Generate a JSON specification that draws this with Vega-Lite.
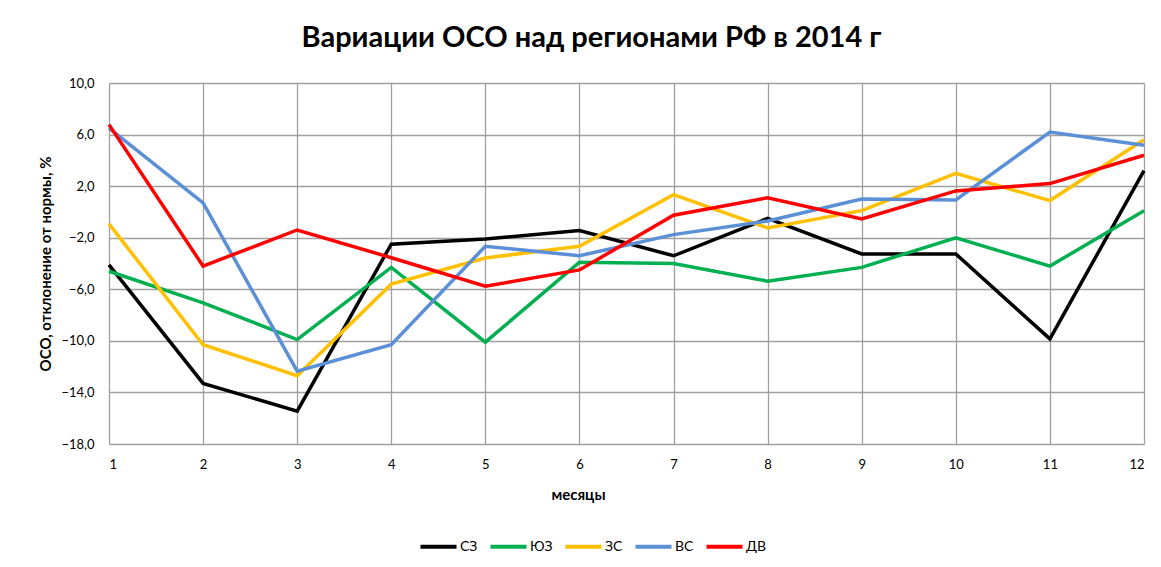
{
  "$schema": "https://vega.github.io/schema/vega-lite/v6.json",
  "width": 1035,
  "height": 361,
  "autosize": "none",
  "padding": {"left": 109, "top": 83, "right": 17, "bottom": 123},
  "background": "white",
  "title": {
    "text": "Вариации ОСО над регионами РФ в 2014 г",
    "font": "Lato",
    "fontSize": 29,
    "fontWeight": "bold",
    "color": "#000000",
    "anchor": "middle",
    "dx": -35,
    "offset": 24
  },
  "data": {
    "values": [
      {"m": 1, "r": "СЗ", "v": -4.1}, {"m": 2, "r": "СЗ", "v": -13.3}, {"m": 3, "r": "СЗ", "v": -15.45}, {"m": 4, "r": "СЗ", "v": -2.5}, {"m": 5, "r": "СЗ", "v": -2.1}, {"m": 6, "r": "СЗ", "v": -1.45}, {"m": 7, "r": "СЗ", "v": -3.4}, {"m": 8, "r": "СЗ", "v": -0.5}, {"m": 9, "r": "СЗ", "v": -3.26}, {"m": 10, "r": "СЗ", "v": -3.26}, {"m": 11, "r": "СЗ", "v": -9.85}, {"m": 12, "r": "СЗ", "v": 3.2},
      {"m": 1, "r": "ЮЗ", "v": -4.6}, {"m": 2, "r": "ЮЗ", "v": -7.05}, {"m": 3, "r": "ЮЗ", "v": -9.9}, {"m": 4, "r": "ЮЗ", "v": -4.3}, {"m": 5, "r": "ЮЗ", "v": -10.1}, {"m": 6, "r": "ЮЗ", "v": -3.9}, {"m": 7, "r": "ЮЗ", "v": -4.0}, {"m": 8, "r": "ЮЗ", "v": -5.37}, {"m": 9, "r": "ЮЗ", "v": -4.3}, {"m": 10, "r": "ЮЗ", "v": -2.0}, {"m": 11, "r": "ЮЗ", "v": -4.2}, {"m": 12, "r": "ЮЗ", "v": 0.1},
      {"m": 1, "r": "ЗС", "v": -0.93}, {"m": 2, "r": "ЗС", "v": -10.3}, {"m": 3, "r": "ЗС", "v": -12.7}, {"m": 4, "r": "ЗС", "v": -5.6}, {"m": 5, "r": "ЗС", "v": -3.57}, {"m": 6, "r": "ЗС", "v": -2.66}, {"m": 7, "r": "ЗС", "v": 1.34}, {"m": 8, "r": "ЗС", "v": -1.24}, {"m": 9, "r": "ЗС", "v": 0.1}, {"m": 10, "r": "ЗС", "v": 3.0}, {"m": 11, "r": "ЗС", "v": 0.88}, {"m": 12, "r": "ЗС", "v": 5.6},
      {"m": 1, "r": "ВС", "v": 6.5}, {"m": 2, "r": "ВС", "v": 0.7}, {"m": 3, "r": "ВС", "v": -12.35}, {"m": 4, "r": "ВС", "v": -10.3}, {"m": 5, "r": "ВС", "v": -2.66}, {"m": 6, "r": "ВС", "v": -3.4}, {"m": 7, "r": "ВС", "v": -1.76}, {"m": 8, "r": "ВС", "v": -0.7}, {"m": 9, "r": "ВС", "v": 1.0}, {"m": 10, "r": "ВС", "v": 0.93}, {"m": 11, "r": "ВС", "v": 6.2}, {"m": 12, "r": "ВС", "v": 5.17},
      {"m": 1, "r": "ДВ", "v": 6.77}, {"m": 2, "r": "ДВ", "v": -4.2}, {"m": 3, "r": "ДВ", "v": -1.4}, {"m": 4, "r": "ДВ", "v": -3.55}, {"m": 5, "r": "ДВ", "v": -5.76}, {"m": 6, "r": "ДВ", "v": -4.5}, {"m": 7, "r": "ДВ", "v": -0.26}, {"m": 8, "r": "ДВ", "v": 1.1}, {"m": 9, "r": "ДВ", "v": -0.54}, {"m": 10, "r": "ДВ", "v": 1.63}, {"m": 11, "r": "ДВ", "v": 2.2}, {"m": 12, "r": "ДВ", "v": 4.4}
    ]
  },
  "mark": {"type": "line", "strokeWidth": 3.5, "strokeJoin": "miter", "clip": false},
  "encoding": {
    "x": {
      "field": "m",
      "type": "quantitative",
      "scale": {"domain": [1, 12], "nice": false, "zero": false},
      "axis": {
        "values": [1, 2, 3, 4, 5, 6, 7, 8, 9, 10, 11, 12],
        "format": "d",
        "title": "месяцы",
        "titleFont": "Lato",
        "titleFontSize": 15,
        "titleFontWeight": "bold",
        "titleColor": "#000000",
        "titleX": 469,
        "titleY": 50,
        "titleBaseline": "middle",
        "labelFont": "Lato",
        "labelFontSize": 13,
        "labelColor": "#000000",
        "labelPadding": 14,
        "ticks": false,
        "domain": false,
        "grid": true,
        "gridColor": "#a0a0a0",
        "gridWidth": 1.3,
        "gridOpacity": 1
      }
    },
    "y": {
      "field": "v",
      "type": "quantitative",
      "scale": {"domain": [-18, 10], "nice": false, "zero": false},
      "axis": {
        "values": [-18, -14, -10, -6, -2, 2, 6, 10],
        "labelExpr": "replace(format(datum.value, '.1f'), '.', ',')",
        "title": "ОСО, отклонение от нормы, %",
        "titleFont": "Lato",
        "titleFontSize": 15,
        "titleFontWeight": "bold",
        "titleColor": "#000000",
        "titleX": -64,
        "titleBaseline": "middle",
        "labelFont": "Lato",
        "labelFontSize": 13,
        "labelColor": "#000000",
        "labelPadding": 15,
        "ticks": false,
        "domain": false,
        "grid": true,
        "gridColor": "#a0a0a0",
        "gridWidth": 1.3,
        "gridOpacity": 1
      }
    },
    "color": {
      "field": "r",
      "type": "nominal",
      "scale": {
        "domain": ["СЗ", "ЮЗ", "ЗС", "ВС", "ДВ"],
        "range": ["#000000", "#00b050", "#ffc000", "#5b8fd6", "#ff0000"]
      },
      "legend": {
        "orient": "none",
        "legendX": 309,
        "legendY": 443,
        "direction": "horizontal",
        "title": null,
        "symbolType": "stroke",
        "symbolSize": 1300,
        "symbolStrokeWidth": 4,
        "labelFont": "Lato",
        "labelFontSize": 14,
        "labelColor": "#000000",
        "labelOffset": 1,
        "columnPadding": 4
      }
    }
  },
  "config": {
    "view": {"stroke": null}
  }
}
